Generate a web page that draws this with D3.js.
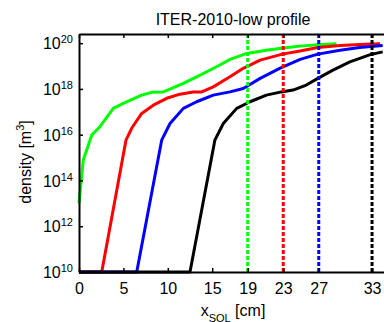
<!DOCTYPE html>
<html>
<head>
<meta charset="utf-8">
<script src="https://cdn.jsdelivr.net/npm/d3@7"></script>
<style>
  body { margin: 0; background: #fff; }
  svg { display: block; font-family: "Liberation Sans", Arial, sans-serif; }
</style>
</head>
<body>
<div id="grafica"></div>
<script>
// profile data: x in cm, log10 of density
const greenX = [0, 0.48, 1.43, 2.36, 3.86, 4.99, 7.06, 8.19, 9.49, 10.44, 11.75, 13.25, 15.5, 17.0, 18.9, 21.1, 23.0, 24.9, 26.9, 29.0]
const greenY = [13.0, 14.89, 15.98, 16.35, 17.15, 17.37, 17.73, 17.85, 17.87, 18.02, 18.24, 18.53, 18.97, 19.29, 19.55, 19.69, 19.79, 19.87, 19.93, 19.97]

const redX = [0, 2.56, 5.29, 5.93, 7.06, 8.37, 9.88, 11.37, 12.87, 13.82, 15.12, 17.0, 18.5, 20.4, 22.9, 24.9, 26.9, 29.4, 31.6, 33.9]
const redY = [10, 10, 15.76, 16.28, 16.93, 17.29, 17.59, 17.77, 17.87, 17.87, 18.09, 18.53, 18.90, 19.26, 19.52, 19.66, 19.81, 19.90, 19.94, 19.97]

const blueX = [0, 6.5, 9.31, 10.25, 11.75, 13.25, 15.12, 17.0, 18.5, 20.4, 22.6, 24.9, 26.9, 29.4, 31.6, 34.2]
const blueY = [10, 10, 15.76, 16.49, 17.15, 17.44, 17.73, 17.87, 18.02, 18.46, 18.90, 19.29, 19.52, 19.69, 19.81, 19.90]

const blackX = [0, 12.5, 15.3, 16.25, 17.76, 19.26, 21.1, 22.8, 24.1, 25.6, 26.9, 28.6, 30.5, 32.8, 34.2]
const blackY = [10, 10, 15.76, 16.49, 17.15, 17.44, 17.73, 17.87, 17.95, 18.17, 18.46, 18.82, 19.18, 19.50, 19.62]

const sepX = [19, 23, 27, 33]
const xTicks = [0, 5, 10, 15, 19, 23, 27, 33]
const yTicks = [10, 12, 14, 16, 18, 20]

const series = [
  {x: greenX, y: greenY, color: '#00ff00'},
  {x: redX, y: redY, color: '#ff0000'},
  {x: blueX, y: blueY, color: '#0000ff'},
  {x: blackX, y: blackY, color: '#000000'}
]
const sepColors = ['#00ff00', '#ff0000', '#0000ff', '#000000']

let width = 384
let height = 322
let padLeft = 79, padBottom = 272, padTop = 34

const xScale = d3.scaleLinear()
  .domain([0, 35])
  .range([padLeft, padLeft + 35 * 8.88])

const yScale = d3.scaleLog()
  .domain([1e10, Math.pow(10, 20.4)])
  .range([padBottom, padTop])

const svg = d3.select('#grafica')
  .append('svg')
  .attr('width', width)
  .attr('height', height)

const line = d3.line()
  .x(d => xScale(d[0]))
  .y(d => yScale(Math.pow(10, d[1])))

series.forEach(s => {
  let pts = s.x.map((v, i) => [v, s.y[i]])
  svg.append('path')
    .datum(pts)
    .attr('d', line)
    .attr('fill', 'none')
    .attr('stroke', s.color)
    .attr('stroke-width', 3)
    .attr('stroke-linejoin', 'round')
})

// dashed markers
svg.selectAll('line.sep')
  .data(sepX)
  .enter()
  .append('line')
  .attr('class', 'sep')
  .attr('x1', d => xScale(d))
  .attr('x2', d => xScale(d))
  .attr('y1', padBottom)
  .attr('y2', padTop)
  .attr('stroke', (d, i) => sepColors[i])
  .attr('stroke-width', 3)
  .attr('stroke-dasharray', '4,2')

// axes
const xAxis = d3.axisBottom(xScale)
  .tickValues(xTicks)
  .tickSizeInner(-4)
  .tickSizeOuter(0)
  .tickPadding(11)

const gx = svg.append('g')
  .attr('transform', 'translate(0,' + padBottom + ')')
  .call(xAxis)
gx.selectAll('text').attr('font-size', 16).attr('fill', '#000')

svg.append('g')
  .attr('transform', 'translate(0,' + padTop + ')')
  .call(d3.axisTop(xScale).tickValues(xTicks).tickSizeInner(-4).tickSizeOuter(0).tickFormat(''))

const yAxis = d3.axisLeft(yScale)
  .tickValues(yTicks.map(e => Math.pow(10, e)))
  .tickSizeInner(-4)
  .tickSizeOuter(0)
  .tickPadding(6)
  .tickFormat('')

const gy = svg.append('g')
  .attr('transform', 'translate(' + padLeft + ',0)')
  .call(yAxis)

gy.selectAll('.tick').each(function(d, i) {
  let t = d3.select(this).append('text')
    .attr('x', -6)
    .attr('dy', '0.36em')
    .attr('text-anchor', 'end')
    .attr('fill', '#000')
    .attr('font-size', 16)
  t.append('tspan').text('10')
  t.append('tspan').attr('dy', '-0.55em').attr('font-size', 11).text(yTicks[i])
})

svg.selectAll('.domain').attr('stroke-width', 2)
svg.selectAll('.tick line').attr('stroke-width', 1.5)

// title and labels
svg.append('text')
  .attr('x', 233)
  .attr('y', 25)
  .attr('text-anchor', 'middle')
  .attr('font-size', 16)
  .text('ITER-2010-low profile')

let xl = svg.append('text')
  .attr('x', 233)
  .attr('y', 316)
  .attr('text-anchor', 'middle')
  .attr('font-size', 16)
xl.append('tspan').text('x')
xl.append('tspan').attr('dy', 6).attr('font-size', 11).text('SOL')
xl.append('tspan').attr('dy', -6).text(' [cm]')

let yl = svg.append('text')
  .attr('transform', 'translate(31,162) rotate(-90)')
  .attr('text-anchor', 'middle')
  .attr('font-size', 16)
yl.append('tspan').text('density [m')
yl.append('tspan').attr('dy', -7).attr('font-size', 11).text('3')
yl.append('tspan').attr('dy', 7).text(']')
</script>
</body>
</html>
